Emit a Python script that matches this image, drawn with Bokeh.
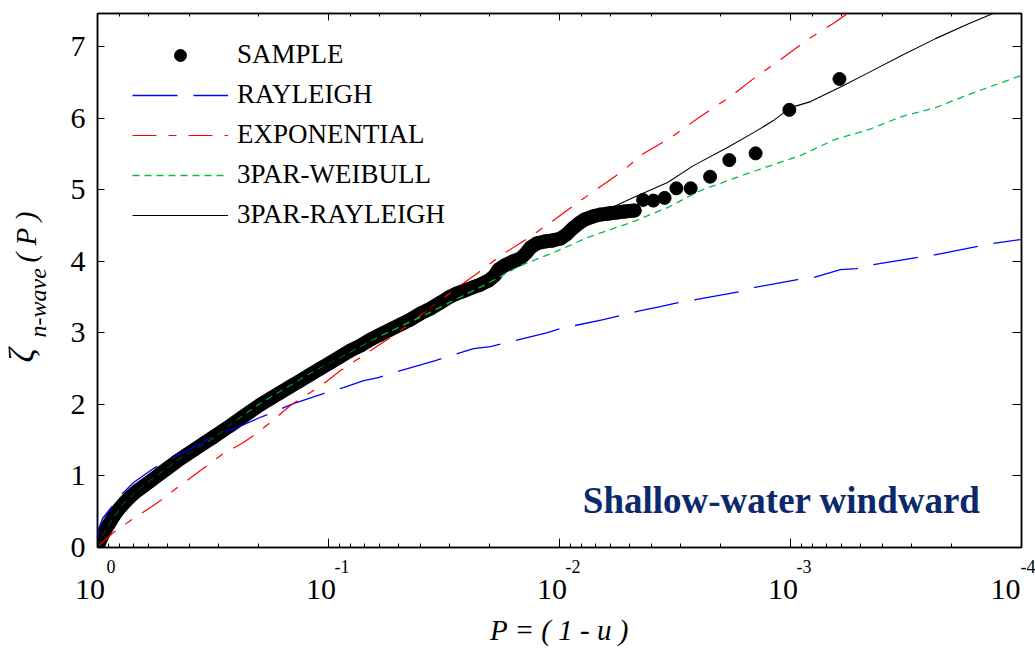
import numpy as np
from bokeh.plotting import figure
from bokeh.layouts import row
from bokeh.models import (Range1d, LogAxis, LinearAxis, FixedTicker, LogTicker,
                          Legend, LegendItem, Label, ColumnDataSource, CustomJSTickFormatter)
from bokeh.core.properties import value
from bokeh.embed import file_html
from bokeh.resources import INLINE

# ---------------- data (x stored as log10 P) ----------------
sample_log10p = [0.000, -0.013, -0.030, -0.048, -0.069, -0.091, -0.117, -0.143, -0.173, -0.203,
                 -0.238, -0.273, -0.307, -0.342, -0.381, -0.420, -0.459, -0.498, -0.537, -0.576,
                 -0.619, -0.662, -0.706, -0.749, -0.792, -0.835, -0.879, -0.922, -0.965, -1.009,
                 -1.052, -1.095, -1.139, -1.182, -1.225, -1.268, -1.312, -1.355, -1.398, -1.442,
                 -1.485, -1.519, -1.554, -1.589, -1.623, -1.658, -1.693, -1.719, -1.736, -1.762,
                 -1.797, -1.831, -1.857, -1.874, -1.900, -1.935, -1.970, -2.004, -2.030, -2.056,
                 -2.082, -2.108, -2.143, -2.177, -2.212, -2.247, -2.281, -2.325,
                 -2.362, -2.406, -2.455, -2.506, -2.568, -2.652, -2.735, -2.849, -2.995, -3.212]
sample_zeta = [0.000, 0.112, 0.223, 0.321, 0.433, 0.531, 0.628, 0.712, 0.796, 0.866,
               0.950, 1.034, 1.117, 1.201, 1.285, 1.369, 1.453, 1.536, 1.620, 1.704,
               1.802, 1.899, 1.997, 2.081, 2.165, 2.249, 2.332, 2.416, 2.500, 2.584,
               2.668, 2.751, 2.821, 2.905, 2.975, 3.045, 3.115, 3.184, 3.268, 3.338,
               3.422, 3.492, 3.547, 3.589, 3.631, 3.673, 3.729, 3.799, 3.883, 3.939,
               3.994, 4.036, 4.120, 4.190, 4.246, 4.274, 4.288, 4.316, 4.372, 4.455,
               4.525, 4.581, 4.623, 4.651, 4.665, 4.679, 4.693, 4.707,
               4.856, 4.846, 4.884, 5.018, 5.018, 5.180, 5.412, 5.506, 6.114, 6.545]
n_dense = 68  # dense part of the sample (overlapping markers)

rayleigh_log10p = [0.000, -0.002, -0.006, -0.022, -0.056, -0.100, -0.156, -0.242, -0.303, -0.390,
                   -0.446, -0.519, -0.606, -0.693, -0.749, -0.848, -0.913, -0.978, -1.065, -1.152,
                   -1.216, -1.312, -1.463, -1.628, -1.701, -1.775, -1.948, -2.004, -2.190, -2.264,
                   -2.351, -2.437, -2.494, -2.784, -2.840, -3.030, -3.100, -3.216, -3.286, -3.359,
                   -3.545, -3.619, -3.805, -3.874, -3.996]
rayleigh_zeta = [0.000, 0.140, 0.265, 0.405, 0.545, 0.726, 0.908, 1.103, 1.215, 1.355,
                 1.453, 1.592, 1.676, 1.802, 1.872, 2.011, 2.081, 2.151, 2.235, 2.332,
                 2.374, 2.472, 2.612, 2.779, 2.807, 2.863, 3.003, 3.059, 3.184, 3.240,
                 3.310, 3.366, 3.408, 3.575, 3.631, 3.743, 3.771, 3.883, 3.897, 3.953,
                 4.050, 4.085, 4.204, 4.246, 4.302]

expo_log10p = [0.000, -0.069, -0.143, -0.229, -0.273, -0.346, -0.446, -0.545, -0.632, -0.693,
               -0.758, -0.835, -0.879, -0.957, -1.052, -1.169, -1.268, -1.342, -1.442, -1.558,
               -1.649, -1.745, -1.861, -1.961, -2.061, -2.134, -2.264, -2.364, -2.481, -2.610,
               -2.740, -2.840, -2.957, -3.074, -3.190, -3.247, -3.303]
expo_zeta = [0.010, 0.209, 0.377, 0.559, 0.656, 0.838, 1.075, 1.313, 1.466, 1.606,
             1.774, 1.983, 2.081, 2.235, 2.472, 2.723, 2.933, 3.101, 3.352, 3.631,
             3.841, 4.078, 4.316, 4.539, 4.777, 4.944, 5.237, 5.503, 5.726, 6.020,
             6.299, 6.550, 6.816, 7.095, 7.332, 7.458, 7.580]

weib3_log10p = [0.000, -0.026, -0.065, -0.113, -0.173, -0.242, -0.346, -0.502, -0.697, -0.922,
                -1.182, -1.411, -1.541, -1.688, -1.831, -1.974, -2.121, -2.320, -2.468, -2.610,
                -2.753, -2.900, -3.043, -3.190, -3.338, -3.481, -3.628, -3.771, -3.996]
weib3_zeta = [0.000, 0.196, 0.405, 0.615, 0.796, 0.964, 1.215, 1.536, 1.997, 2.430,
              2.891, 3.240, 3.450, 3.687, 3.939, 4.120, 4.330, 4.553, 4.749, 4.986,
              5.154, 5.321, 5.475, 5.698, 5.838, 6.020, 6.145, 6.327, 6.592]

rayl3_log10p = [0.000, -0.030, -0.069, -0.117, -0.173, -0.238, -0.307, -0.381, -0.459, -0.537,
                -0.619, -0.706, -0.792, -0.879, -0.965, -1.052, -1.139, -1.225, -1.312, -1.398,
                -1.485, -1.571, -1.658, -1.745, -1.874, -2.048, -2.190, -2.320, -2.468, -2.580,
                -2.727, -2.840, -2.926, -3.000, -3.087, -3.221, -3.338, -3.481, -3.628, -3.771,
                -3.874, -3.952]
rayl3_zeta = [0.000, 0.223, 0.433, 0.628, 0.796, 0.950, 1.117, 1.285, 1.453, 1.620,
              1.802, 1.997, 2.165, 2.332, 2.500, 2.668, 2.821, 2.975, 3.115, 3.268,
              3.422, 3.575, 3.715, 3.897, 4.148, 4.427, 4.693, 4.888, 5.098, 5.335,
              5.587, 5.796, 5.964, 6.145, 6.229, 6.439, 6.634, 6.872, 7.109, 7.318,
              7.458, 7.570]

y_ticks = [0, 1, 2, 3, 4, 5, 6, 7]
legend_labels = ["SAMPLE", "RAYLEIGH", "EXPONENTIAL", "3PAR-WEIBULL", "3PAR-RAYLEIGH"]

# ---------------- layout constants (pixels) ----------------
FONT = "Liberation Serif"
LEFT_W = 60                      # strip holding the y-axis title
MAIN_W = 1035 - LEFT_W
TOP_B, BOT_B = 13, 106

# ---------------- main figure ----------------
p = figure(width=MAIN_W, height=653, x_axis_type="log",
           x_range=Range1d(1.0, 1e-4), y_range=Range1d(0, 7.46),
           output_backend="svg", toolbar_location=None,
           min_border_left=97 - LEFT_W, min_border_right=14,
           min_border_top=TOP_B, min_border_bottom=BOT_B)
p.grid.visible = False
p.outline_line_color = "black"
p.outline_line_width = 1.5

# bottom axis 1: tick marks + exponents (superscripts), shifted right with en-spaces
xa = p.xaxis[0]
xa.formatter = CustomJSTickFormatter(
    code=r"return '\u2002\u2002\u2002' + String(Math.round(Math.log10(tick)));")
xa.major_label_text_font = FONT
xa.major_label_text_font_size = "18px"
xa.major_label_text_color = "black"
xa.major_label_standoff = 9
xa.major_tick_in, xa.major_tick_out = 9, 0
xa.minor_tick_in, xa.minor_tick_out = 4, 0
xa.axis_line_width = 1.5

# bottom axis 2: the "10" bases, shifted left with a trailing en-space, plus the x title
xb = LogAxis(ticker=LogTicker(),
             formatter=CustomJSTickFormatter(code=r"return '10\u2002';"),
             major_label_text_font=FONT, major_label_text_font_size="30px",
             major_label_text_color="black", major_label_standoff=-14,
             axis_line_color=None, major_tick_line_color=None, minor_tick_line_color=None,
             axis_label="P = ( 1 - u )", axis_label_text_font=FONT,
             axis_label_text_font_style="italic", axis_label_text_font_size="29px",
             axis_label_text_color="black", axis_label_standoff=6)
p.add_layout(xb, "below")

ya = p.yaxis[0]
ya.ticker = FixedTicker(ticks=y_ticks)
ya.major_tick_in, ya.major_tick_out = 7, 0
ya.minor_tick_line_color = None
ya.major_label_text_font = FONT
ya.major_label_text_font_size = "30px"
ya.major_label_text_color = "black"
ya.major_label_standoff = 12
ya.axis_line_width = 1.5

top = LogAxis(ticker=LogTicker(), formatter=CustomJSTickFormatter(code="return ''"),
              major_label_text_font_size="1px", major_label_standoff=0,
              major_tick_in=7, major_tick_out=0, minor_tick_in=3, minor_tick_out=0, axis_line_width=1.5)
p.add_layout(top, "above")
right = LinearAxis(ticker=FixedTicker(ticks=y_ticks), formatter=CustomJSTickFormatter(code="return ''"),
                   major_label_text_font_size="1px", major_label_standoff=0,
                   major_tick_in=9, major_tick_out=0, minor_tick_line_color=None, axis_line_width=1.5)
p.add_layout(right, "right")

sP = 10.0 ** np.array(sample_log10p)
sZ = np.array(sample_zeta)
band = ColumnDataSource(dict(p=sP[:n_dense], z=sZ[:n_dense]))
p.line("p", "z", source=band, line_width=14, line_color="black", line_join="round", line_cap="round")
samp = ColumnDataSource(dict(p=sP, z=sZ))
r_sample = p.scatter("p", "z", source=samp, size=13, fill_color="black", line_color="black")

r_ray = p.line(10.0 ** np.array(rayleigh_log10p), rayleigh_zeta, line_color="#0000ff",
               line_width=1.3, line_dash="45 16")
r_exp = p.line(10.0 ** np.array(expo_log10p), expo_zeta, line_color="#ff0000",
               line_width=1.2, line_dash="24 12 8 12")
r_weib = p.line(10.0 ** np.array(weib3_log10p), weib3_zeta, line_color="#00c040",
                line_width=1.3, line_dash="7 5")
r_r3 = p.line(10.0 ** np.array(rayl3_log10p), rayl3_zeta, line_color="black", line_width=1.1)

legend = Legend(items=[LegendItem(label=lab, renderers=[r]) for lab, r in
                       zip(legend_labels, [r_sample, r_ray, r_exp, r_weib, r_r3])],
                location=(35, 317), orientation="vertical",
                glyph_width=96, glyph_height=30, label_height=30, spacing=9,
                padding=0, margin=0, label_standoff=9,
                label_text_font=FONT, label_text_font_size="27px", label_text_color="black",
                border_line_color=None, background_fill_alpha=0)
p.add_layout(legend)

p.add_layout(Label(x=10.0 ** -3.823, y=0.66, text="Shallow-water windward", text_align="right",
                   text_baseline="alphabetic", text_font=FONT, text_font_style="bold",
                   text_font_size="37px", text_color="#0c2a6b"))

# ---------------- left strip: y title (page-pixel coordinates) ----------------
l = figure(width=LEFT_W, height=653, x_range=Range1d(0, LEFT_W), y_range=Range1d(653 - BOT_B, TOP_B),
           output_backend="svg", toolbar_location=None, x_axis_location=None, y_axis_location=None,
           min_border_left=0, min_border_right=0, min_border_top=TOP_B, min_border_bottom=BOT_B)
l.grid.visible = False
l.outline_line_color = None
l.text(x=[22], y=[362], text=["ζ"], angle=np.pi / 2, text_align="left", text_baseline="alphabetic",
       text_font=value(FONT), text_font_style="italic", text_font_size="35px", text_color="black")
l.text(x=[37], y=[337], text=["n-wave"], angle=np.pi / 2, text_align="left", text_baseline="alphabetic",
       text_font=value(FONT), text_font_style="italic", text_font_size="24px", text_color="black")
l.text(x=[25], y=[262], text=["( P )"], angle=np.pi / 2, text_align="left", text_baseline="alphabetic",
       text_font=value(FONT), text_font_style="italic", text_font_size="29px", text_color="black")

page = row(l, p, spacing=0)
open("out.html", "w").write(file_html(page, INLINE))
